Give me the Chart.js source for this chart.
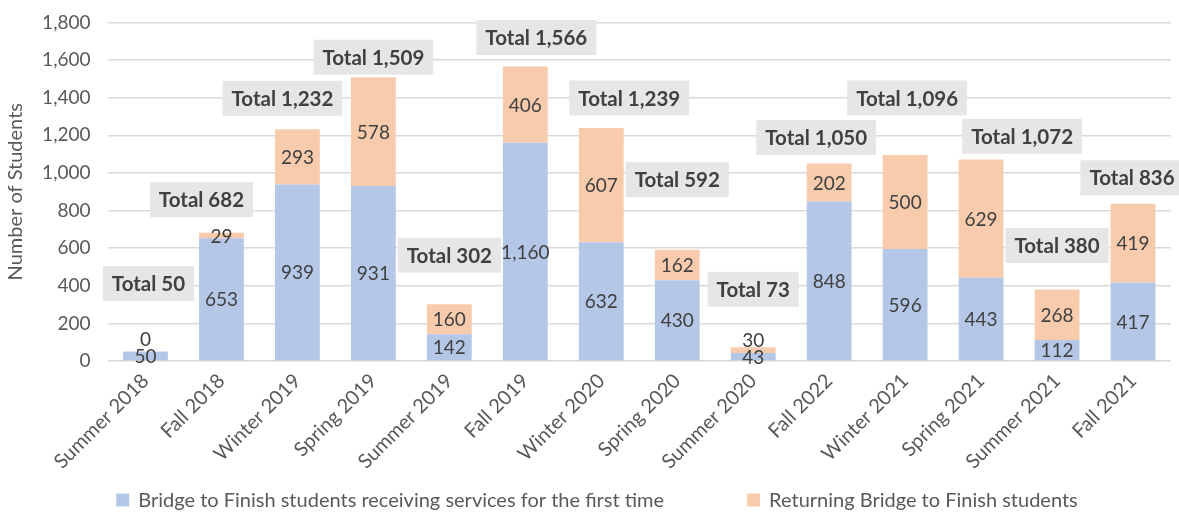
<!DOCTYPE html>
<html>
<head>
<meta charset="utf-8">
<script src="https://cdn.jsdelivr.net/npm/chart.js@4.4.1/dist/chart.umd.min.js"></script>
<style>
    html, body { margin: 0; padding: 0; background: #fff; }
    #wrap { width: 1179px; height: 512px; position: relative; }
</style>
</head>
<body>
<div id="wrap"><canvas id="mycanvas"></canvas></div>
<script>
var terms = ['Summer 2018', 'Fall 2018', 'Winter 2019', 'Spring 2019', 'Summer 2019', 'Fall 2019',
    'Winter 2020', 'Spring 2020', 'Summer 2020', 'Fall 2022', 'Winter 2021', 'Spring 2021',
    'Summer 2021', 'Fall 2021'];
var firstTime = [50, 653, 939, 931, 142, 1160, 632, 430, 43, 848, 596, 443, 112, 417];
var returning = [0, 29, 293, 578, 160, 406, 607, 162, 30, 202, 500, 629, 268, 419];
var seriesNames = ['Bridge to Finish students receiving services for the first time',
    'Returning Bridge to Finish students'];
var yMax = 1800;
var yStep = 200;

// where the "Total" boxes sit, relative to the top of each bar (px)
var totalDx = [3, -20, -15, 0, 0, 11, 28, 0, 0, -13, 2, 41, 0, -1];
var totalDy = [68, 33, 31, 20, 49, 29, 30, 70, 58, 26, 57, 23, 44, 26];

var FONT = 'Lato';
var textDark = '#404040';
var textGray = '#595959';

function fmt(n) {
    return n.toLocaleString('en-US');
}

var valueLabels = {
    id: 'valueLabels',
    afterDatasetsDraw: function (chart) {
        var ctx = chart.ctx;
        var m0 = chart.getDatasetMeta(0);
        var m1 = chart.getDatasetMeta(1);
        ctx.save();
        ctx.font = '19px ' + FONT;
        ctx.fillStyle = textDark;
        ctx.textAlign = 'center';
        ctx.textBaseline = 'middle';
        for (var i = 0; i < terms.length; i++) {
            var b = m0.data[i];
            var cy0 = (b.y + b.base) / 2;
            ctx.fillText(fmt(firstTime[i]), b.x, cy0 + 1);
            var o = m1.data[i];
            var cy1 = Math.min((o.y + o.base) / 2, cy0 - 17);
            ctx.fillText(fmt(returning[i]), o.x, cy1 + 1);
        }

        // total boxes
        var ys = chart.scales.y;
        var xs = chart.scales.x;
        ctx.font = 'bold 20.5px ' + FONT;
        for (var j = 0; j < terms.length; j++) {
            var total = firstTime[j] + returning[j];
            var txt = 'Total ' + fmt(total);
            var w = ctx.measureText(txt).width + 18;
            var h = 35;
            var cx = xs.getPixelForValue(j) + totalDx[j];
            var cy = ys.getPixelForValue(total) - totalDy[j];
            ctx.fillStyle = '#e6e6e6';
            ctx.fillRect(cx - w / 2, cy - h / 2, w, h);
            ctx.fillStyle = textDark;
            ctx.fillText(txt, cx, cy + 1);
        }
        ctx.restore();
    }
};

var bottomLegend = {
    id: 'bottomLegend',
    afterDraw: function (chart) {
        var ctx = chart.ctx;
        var ds = chart.data.datasets;
        ctx.save();
        ctx.font = '20px ' + FONT;
        ctx.textBaseline = 'middle';
        var box = 13, gapBox = 9, gapItem = 83;
        var widths = ds.map(function (d) { return ctx.measureText(d.label).width; });
        var total = 0;
        for (var k = 0; k < ds.length; k++) {
            total += box + gapBox + widths[k];
        }
        total += gapItem * (ds.length - 1);
        var x = 597 - total / 2;
        var y = 500;
        for (var k2 = 0; k2 < ds.length; k2++) {
            ctx.fillStyle = ds[k2].backgroundColor;
            ctx.fillRect(x, y - box / 2, box, box);
            ctx.fillStyle = textGray;
            ctx.textAlign = 'left';
            ctx.fillText(ds[k2].label, x + box + gapBox, y + 1);
            x += box + gapBox + widths[k2] + gapItem;
        }
        ctx.restore();
    }
};

var chartdata = {
    labels: terms,
    datasets: [
        {
            label: seriesNames[0],
            data: firstTime,
            backgroundColor: '#b4c7e7',
            stack: 's'
        },
        {
            label: seriesNames[1],
            data: returning,
            backgroundColor: '#f8cbad',
            stack: 's'
        }
    ]
};

var ctx = document.getElementById('mycanvas');
var barGraph = new Chart(ctx, {
    type: 'bar',
    data: chartdata,
    plugins: [valueLabels, bottomLegend],
    options: {
        responsive: true,
        maintainAspectRatio: false,
        animation: false,
        devicePixelRatio: 1,
        layout: { padding: { top: 22.5, right: 8, bottom: 38, left: 4 } },
        datasets: {
            bar: { categoryPercentage: 1, barPercentage: 0.59, borderWidth: 0 }
        },
        plugins: {
            legend: { display: false },
            tooltip: { enabled: false }
        },
        scales: {
            x: {
                stacked: true,
                grid: { display: false, drawTicks: false },
                border: { display: false },
                ticks: {
                    color: textGray,
                    font: { family: FONT, size: 20 },
                    minRotation: 45,
                    maxRotation: 45,
                    padding: 8
                },
                afterFit: function (scale) { scale.height = 113; }
            },
            y: {
                stacked: true,
                min: 0,
                max: yMax,
                grid: { color: '#d9d9d9', lineWidth: 1.5, drawTicks: false },
                border: { display: false },
                ticks: {
                    stepSize: yStep,
                    color: textGray,
                    padding: 17,
                    font: { family: FONT, size: 19 },
                    callback: function (v) { return fmt(v); }
                },
                title: {
                    display: true,
                    text: 'Number of Students',
                    color: textGray,
                    font: { family: FONT, size: 20 },
                    padding: { top: 0, bottom: 0 }
                },
                afterFit: function (scale) {
                    scale.width = 103.5;
                    scale.paddingTop = 0;
                    scale.paddingBottom = 0;
                }
            }
        }
    }
});
</script>
</body>
</html>
